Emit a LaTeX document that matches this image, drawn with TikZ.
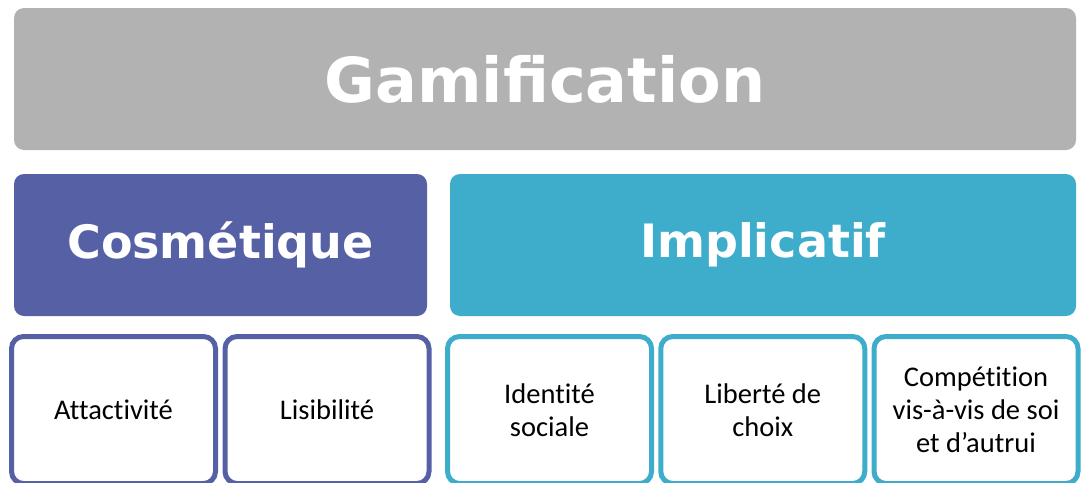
\documentclass[tikz,border=0pt]{standalone}
\usepackage{fontspec}
\setmainfont{Carlito}[Ligatures={NoCommon}]
\newfontfamily\titlefont{DejaVu Sans}

\definecolor{gamgray}{HTML}{B2B2B2}
\definecolor{cosmpurple}{HTML}{5660A5}
\definecolor{implblue}{HTML}{3EADCB}

\begin{document}
\begin{tikzpicture}[x=1pt,y=-1pt]

      \useasboundingbox (0,0) rectangle (1081,482);
      \clip (0,0) rectangle (1081,482);

      \begin{scope}[every node/.style={rounded corners=10pt,text=white,
          font=\titlefont\bfseries\fontsize{46}{52}\selectfont,minimum height=142pt}]
        \node[fill=gamgray,minimum width=1062pt,
          font=\titlefont\bfseries\fontsize{62}{70}\selectfont] (gam) at (545,79) {Gamification};
        \node[fill=cosmpurple,minimum width=413pt] (cosm) at (220.5,245) {Cosmétique};
        \node[fill=implblue,minimum width=626pt] (impl) at (763,245) {Implicatif};
      \end{scope}

      \begin{scope}[every node/.style={draw,line width=5pt,rounded corners=12pt,fill=white,
          minimum width=204pt,minimum height=147pt,align=center,
          font=\fontsize{28.5}{33}\selectfont}]
        \node[draw=cosmpurple] (attr) at (113.5,410) {Attactivité};
        \node[draw=cosmpurple] (lisi) at (327,410) {Lisibilité};
        \node[draw=implblue] (iden) at (549.5,410) {Identité\\sociale};
        \node[draw=implblue] (libe) at (762.75,410) {Liberté de\\choix};
        \node[draw=implblue] (comp) at (976,410) {Compétition\\vis-à-vis de soi\\et d’autrui};
      \end{scope}

    \end{tikzpicture}
\end{document}
